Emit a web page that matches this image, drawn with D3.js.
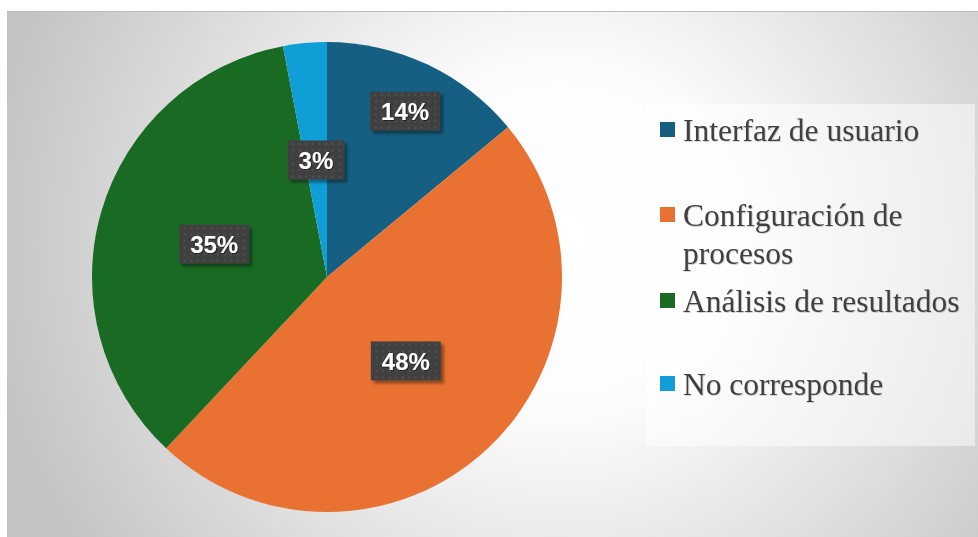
<!DOCTYPE html>
<html>
<head>
<meta charset="utf-8">
<script src="https://cdn.jsdelivr.net/npm/d3@7"></script>
<style>
  html, body { margin: 0; padding: 0; background: #ffffff; }
  svg { display: block; }
</style>
</head>
<body>
<svg id="chart" width="978" height="537"></svg>
<script>
// Categories and their shares (percent)
const categories = ["Interfaz de usuario", "Configuración de procesos", "Análisis de resultados", "No corresponde"];
const legendLines = [["Interfaz de usuario"], ["Configuración de", "procesos"], ["Análisis de resultados"], ["No corresponde"]];
const values = [14, 48, 35, 3];
const colors = ["#156082", "#E97132", "#196B24", "#0F9ED5"];

const svg = d3.select("#chart");
const W = 978, H = 537;
const defs = svg.append("defs");

// Chart-area background: radial gradient from white to grey
const bg = defs.append("radialGradient").attr("id", "bgGrad")
  .attr("gradientUnits", "userSpaceOnUse")
  .attr("cx", 560).attr("cy", 240).attr("r", 580);
bg.append("stop").attr("offset", "0").attr("stop-color", "#ffffff");
bg.append("stop").attr("offset", "0.3").attr("stop-color", "#fcfcfc");
bg.append("stop").attr("offset", "1").attr("stop-color", "#c3c3c3");

// Dotted dark fill for the data-label boxes
const pat = defs.append("pattern").attr("id", "dots")
  .attr("patternUnits", "userSpaceOnUse")
  .attr("width", 6.6).attr("height", 6.6);
pat.append("rect").attr("width", 6.6).attr("height", 6.6).attr("fill", "#3f3f3f");
pat.append("rect").attr("x", 2.5).attr("y", 2.5).attr("width", 2).attr("height", 2).attr("fill", "#535353");

const boxShadow = defs.append("filter").attr("id", "boxShadow")
  .attr("x", "-20%").attr("y", "-20%").attr("width", "150%").attr("height", "150%");
boxShadow.append("feDropShadow").attr("dx", 3).attr("dy", 3).attr("stdDeviation", 1.8)
  .attr("flood-color", "#000").attr("flood-opacity", 0.4);

const textShadow = defs.append("filter").attr("id", "textShadow")
  .attr("x", "-20%").attr("y", "-20%").attr("width", "150%").attr("height", "150%");
textShadow.append("feDropShadow").attr("dx", 1).attr("dy", 1).attr("stdDeviation", 0.7)
  .attr("flood-color", "#000").attr("flood-opacity", 0.5);

const legendShadow = defs.append("filter").attr("id", "legendShadow")
  .attr("x", "-20%").attr("y", "-20%").attr("width", "150%").attr("height", "150%");
legendShadow.append("feDropShadow").attr("dx", 0.8).attr("dy", 0.8).attr("stdDeviation", 0.6)
  .attr("flood-color", "#000").attr("flood-opacity", 0.2);

// Chart area
svg.append("rect").attr("x", 7).attr("y", 11).attr("width", W - 7).attr("height", H - 11)
  .attr("fill", "url(#bgGrad)");
svg.append("line").attr("x1", 7).attr("x2", W).attr("y1", 11.5).attr("y2", 11.5)
  .attr("stroke", "#bdbdbd").attr("stroke-width", 1);

// Pie
const cx = 327, cy = 277, R = 235;
const pie = d3.pie().sort(null).value(d => d.value);
const arcs = pie(values.map((v, i) => ({ value: v, name: categories[i], color: colors[i] })));
const arc = d3.arc().innerRadius(0).outerRadius(R);

const g = svg.append("g").attr("transform", `translate(${cx},${cy})`);
g.selectAll("path.slice").data(arcs).join("path")
  .attr("class", "slice")
  .attr("d", arc)
  .attr("fill", d => d.data.color);

// Data labels: distance of each label from the centre, as a fraction of the radius
const labelRadius = [0.78, 0.49, 0.5, 0.5];
const labelFont = 24;
arcs.forEach((d, i) => {
  const la = d3.arc().innerRadius(R * labelRadius[i]).outerRadius(R * labelRadius[i]);
  const [x, y] = la.centroid(d);
  const txt = Math.round(d.value) + "%";
  const lg = g.append("g").attr("transform", `translate(${x},${y})`);
  const t = lg.append("text")
    .attr("text-anchor", "middle")
    .attr("dy", "0.36em")
    .attr("font-family", "Arial, 'Liberation Sans', sans-serif")
    .attr("font-weight", "bold")
    .attr("font-size", labelFont)
    .attr("fill", "#ffffff")
    .attr("filter", "url(#textShadow)")
    .text(txt);
  const bw = t.node().getComputedTextLength() + 22;
  const bh = 39;
  lg.insert("rect", "text")
    .attr("x", -bw / 2).attr("y", -bh / 2)
    .attr("width", bw).attr("height", bh)
    .attr("fill", "url(#dots)")
    .attr("filter", "url(#boxShadow)");
});

// Legend
const lgX = 646, lgY = 104, lgW = 329, lgH = 342;
svg.append("rect").attr("x", lgX).attr("y", lgY).attr("width", lgW).attr("height", lgH)
  .attr("fill", "#ffffff").attr("fill-opacity", 0.5);

const legendTop = [122, 207, 293, 376];
const lineH = 38;
const legend = svg.append("g");
categories.forEach((c, i) => {
  const item = legend.append("g").attr("transform", `translate(660,${legendTop[i]})`);
  item.append("rect").attr("width", 15).attr("height", 15).attr("fill", colors[i]);
  const t = item.append("text")
    .attr("x", 23).attr("y", 19)
    .attr("font-family", "'Times New Roman', 'Liberation Serif', serif")
    .attr("font-size", 31.5)
    .attr("fill", "#404040")
    .attr("filter", "url(#legendShadow)");
  legendLines[i].forEach((ln, j) => {
    t.append("tspan").attr("x", 23).attr("dy", j === 0 ? 0 : lineH).text(ln);
  });
});
</script>
</body>
</html>
